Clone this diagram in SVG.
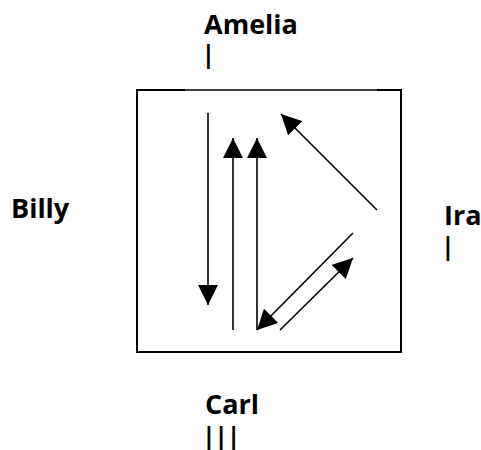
<svg xmlns="http://www.w3.org/2000/svg" width="481" height="450" viewBox="0 0 481 450">
  <style>
    .lbl { font-family: "Open Sans", "DejaVu Sans", sans-serif; font-weight: bold; font-size: 27px; fill: #000; }
    .tally { font-family: "DejaVu Sans", "Liberation Sans", sans-serif; font-weight: bold; font-size: 24px; fill: #000; }
    .edge { stroke: #000; stroke-width: 1.6; fill: none; marker-end: url(#ah); }
    .frame { stroke: #000; fill: none; stroke-width: 2; }
  </style>
  <defs>
    <marker id="ah" markerUnits="userSpaceOnUse" markerWidth="20" markerHeight="20" refX="20" refY="10" orient="auto" viewBox="0 0 20 20">
      <path d="M0,0 L20,10 L0,20 z" fill="#000"/>
    </marker>
  </defs>
  <rect width="481" height="450" fill="#fff"/>
  <g id="box">
    <path class="frame" d="M185,90 H137 V352 H401 V90 H377"/>
    <path d="M185,90 H377" stroke="#000" stroke-width="1.3" fill="none"/>
  </g>
  <g id="amelia">
    <text class="lbl" x="204" y="34">Amelia</text>
    <text class="tally" x="204" y="63">|</text>
  </g>
  <g id="billy">
    <text class="lbl" x="11" y="218">Billy</text>
  </g>
  <g id="carl">
    <text class="lbl" x="205" y="414">Carl</text>
    <text class="tally" x="204.6" y="445" letter-spacing="3.5">|||</text>
  </g>
  <g id="ira">
    <text class="lbl" x="444" y="225">Ira</text>
    <text class="tally" x="443.6" y="255">|</text>
  </g>
  <g id="connectors">
    <line class="edge" x1="208" y1="113" x2="208" y2="305"/>
    <line class="edge" x1="233" y1="330" x2="233" y2="138"/>
    <line class="edge" x1="257" y1="330" x2="257" y2="138"/>
    <line class="edge" x1="377" y1="210" x2="281" y2="114"/>
    <line class="edge" x1="353" y1="233" x2="257" y2="330"/>
    <line class="edge" x1="280" y1="330" x2="353" y2="258"/>
  </g>
</svg>
